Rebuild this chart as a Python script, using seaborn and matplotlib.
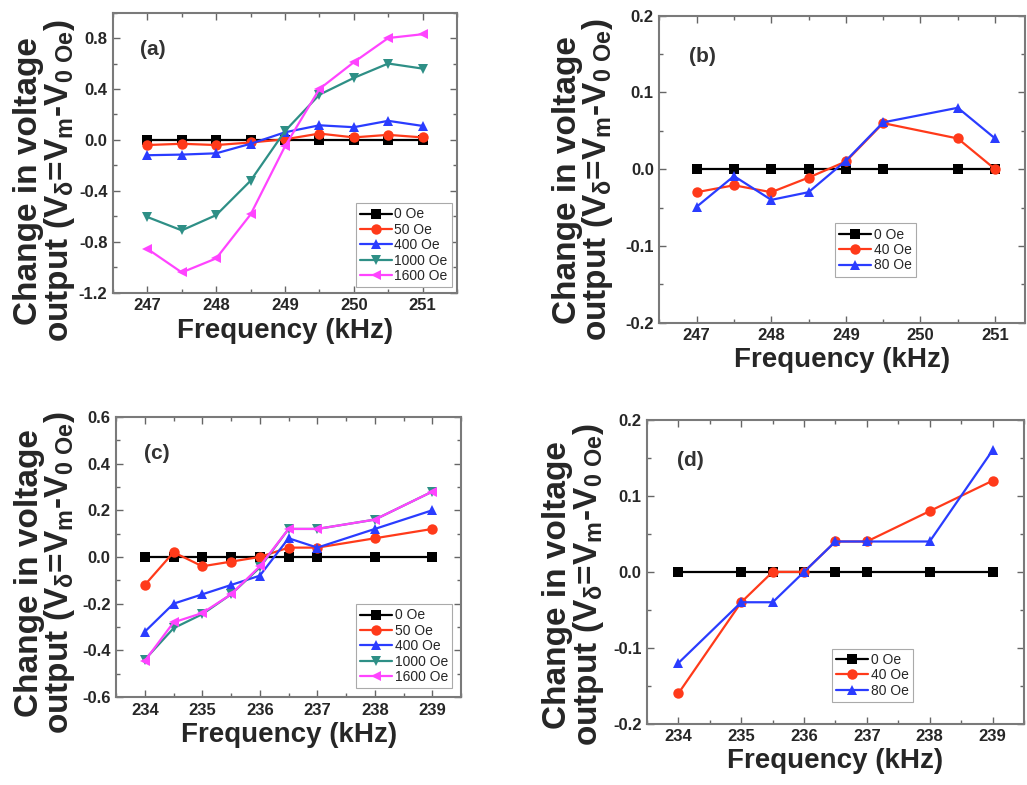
import matplotlib
matplotlib.use('Agg')
import matplotlib.pyplot as plt
import seaborn as sns
from matplotlib.ticker import MultipleLocator, AutoMinorLocator

# ---- data ----
# panel (a)
freq_a = [247, 247.5, 248, 248.5, 249, 249.5, 250, 250.5, 251]
a_0oe = [0, 0, 0, 0, 0, 0, 0, 0, 0]
a_50oe = [-0.04, -0.03, -0.04, -0.02, 0.005, 0.05, 0.02, 0.04, 0.02]
a_400oe = [-0.12, -0.115, -0.105, -0.03, 0.06, 0.115, 0.10, 0.15, 0.11]
a_1000oe = [-0.605, -0.71, -0.59, -0.32, 0.07, 0.355, 0.487, 0.60, 0.56]
a_1600oe = [-0.855, -1.04, -0.93, -0.585, -0.05, 0.40, 0.61, 0.80, 0.83]

# panel (b)
freq_b = [247, 247.5, 248, 248.5, 249, 249.5, 250.5, 251]
b_0oe = [0, 0, 0, 0, 0, 0, 0, 0]
b_40oe = [-0.03, -0.021, -0.03, -0.011, 0.01, 0.06, 0.04, 0.0]
b_80oe = [-0.049, -0.009, -0.04, -0.03, 0.011, 0.061, 0.08, 0.04]

# panel (c)
freq_c = [234, 234.5, 235, 235.5, 236, 236.5, 237, 238, 239]
c_0oe = [0, 0, 0, 0, 0, 0, 0, 0, 0]
c_50oe = [-0.12, 0.02, -0.04, -0.02, 0.0, 0.04, 0.04, 0.08, 0.12]
c_400oe = [-0.32, -0.20, -0.16, -0.12, -0.08, 0.08, 0.04, 0.12, 0.20]
c_1000oe = [-0.44, -0.305, -0.245, -0.16, -0.045, 0.12, 0.12, 0.16, 0.28]
c_1600oe = [-0.445, -0.28, -0.24, -0.16, -0.04, 0.12, 0.12, 0.16, 0.28]

# panel (d)
freq_d = [234, 235, 235.5, 236, 236.5, 237, 238, 239]
d_0oe = [0, 0, 0, 0, 0, 0, 0, 0]
d_40oe = [-0.16, -0.04, 0.0, 0.0, 0.04, 0.04, 0.08, 0.12]
d_80oe = [-0.12, -0.04, -0.04, 0.0, 0.04, 0.04, 0.04, 0.16]

labels_big = ['0 Oe', '50 Oe', '400 Oe', '1000 Oe', '1600 Oe']
labels_small = ['0 Oe', '40 Oe', '80 Oe']

# styles (Origin-like)
colors = ['#000000', '#ff3a1a', '#2a3cff', '#2e8f86', '#ff44ff']
markers = ['s', 'o', '^', 'v', '<']

sns.set_style('ticks')
plt.rcParams['font.family'] = ['Liberation Sans', 'DejaVu Sans']
plt.rcParams['axes.unicode_minus'] = False
plt.rcParams['mathtext.fontset'] = 'custom'
plt.rcParams['mathtext.rm'] = 'Liberation Sans:bold'
plt.rcParams['mathtext.it'] = 'Liberation Sans:bold'
plt.rcParams['mathtext.bf'] = 'Liberation Sans:bold'

ylab = 'Change in voltage\noutput (V$_{\\delta}$=V$_{m}$-V$_{0\\ Oe}$)'

fig = plt.figure(figsize=(10.27, 7.85), dpi=100)


def panel(rect, freq, series, labels, xlim, ylim, ystep, tag, leg_loc, leg_anchor, ylab_xy):
    ax = fig.add_axes(rect)
    for i, (y, lab) in enumerate(zip(series, labels)):
        sns.lineplot(x=freq, y=y, ax=ax, color=colors[i], marker=markers[i],
                     markersize=7.5, markeredgewidth=0, linewidth=1.6, label=lab)
    ax.set_xlim(*xlim)
    ax.set_ylim(*ylim)
    ax.xaxis.set_major_locator(MultipleLocator(1))
    ax.xaxis.set_minor_locator(MultipleLocator(0.5))
    ax.yaxis.set_major_locator(MultipleLocator(ystep))
    ax.yaxis.set_minor_locator(AutoMinorLocator(2))
    ax.tick_params(which='both', direction='in', top=True, right=True,
                   color='#666666', width=1.0)
    ax.tick_params(which='major', length=5, labelsize=12, pad=4)
    ax.tick_params(which='minor', length=3)
    for lbl in ax.get_xticklabels() + ax.get_yticklabels():
        lbl.set_fontweight('bold')
    for sp in ax.spines.values():
        sp.set_color('#7a7a7a')
        sp.set_linewidth(1.5)
    ax.set_xlabel('Frequency (kHz)', fontsize=20, fontweight='bold', labelpad=3)
    ax.set_ylabel(ylab, fontsize=24, fontweight='bold', linespacing=0.9)
    ax.yaxis.set_label_coords(*ylab_xy)
    ax.text(0.08, 0.85, tag, transform=ax.transAxes, fontsize=15, fontweight='bold',
            color='#333333')
    leg = ax.legend(loc=leg_loc, bbox_to_anchor=leg_anchor, borderaxespad=0,
                    fontsize=10, frameon=True, fancybox=False, framealpha=1,
                    edgecolor='#aaaaaa', handlelength=2.3, handletextpad=0.2,
                    labelspacing=0.1, borderpad=0.3)
    leg.get_frame().set_linewidth(0.8)
    return ax


panel([0.110, 0.627, 0.335, 0.357], freq_a,
      [a_0oe, a_50oe, a_400oe, a_1000oe, a_1600oe], labels_big,
      (246.5, 251.5), (-1.2, 1.0), 0.4, '(a)', 'lower right', (0.985, 0.02),
      (-0.105, 0.40))

panel([0.642, 0.589, 0.356, 0.391], freq_b,
      [b_0oe, b_40oe, b_80oe], labels_small,
      (246.5, 251.4), (-0.2, 0.2), 0.1, '(b)', 'lower left', (0.481, 0.150),
      (-0.12, 0.466))

panel([0.113, 0.112, 0.336, 0.357], freq_c,
      [c_0oe, c_50oe, c_400oe, c_1000oe, c_1600oe], labels_big,
      (233.5, 239.5), (-0.6, 0.6), 0.2, '(c)', 'lower right', (0.974, 0.032),
      (-0.113, 0.443))

panel([0.630, 0.078, 0.367, 0.387], freq_d,
      [d_0oe, d_40oe, d_80oe], labels_small,
      (233.5, 239.5), (-0.2, 0.2), 0.1, '(d)', 'lower left', (0.491, 0.072),
      (-0.11, 0.457))

fig.savefig('out.png', dpi=100)
